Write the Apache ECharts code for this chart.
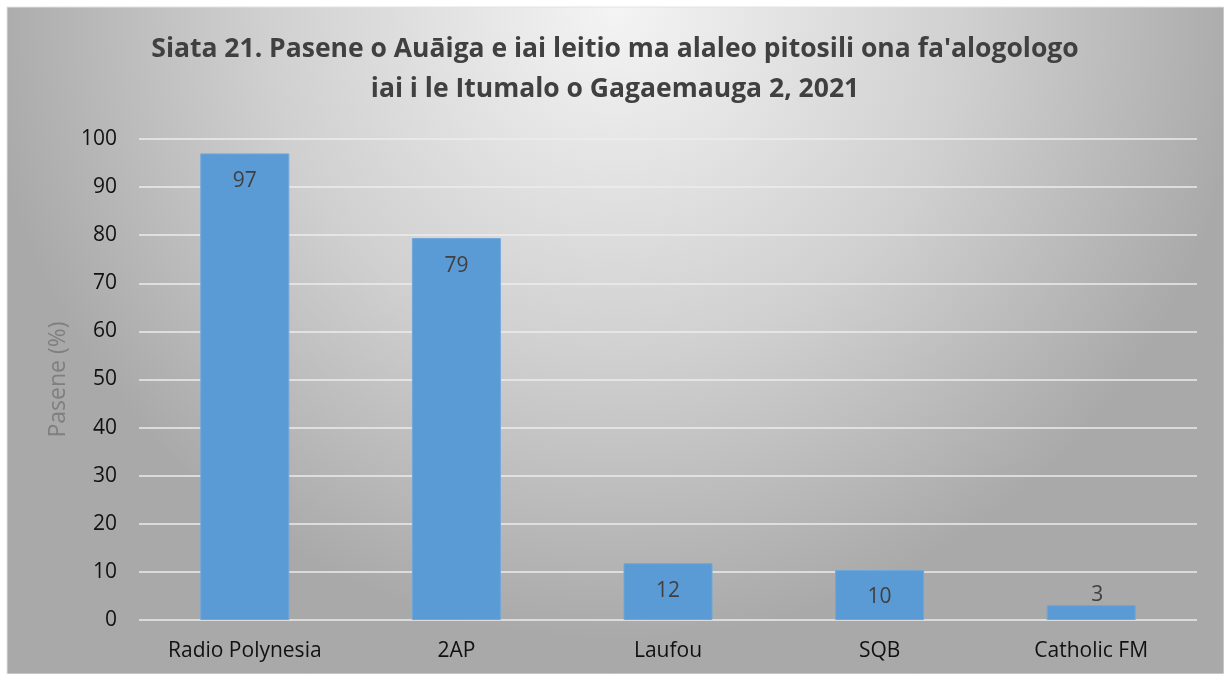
<!DOCTYPE html>
<html>
<head>
<meta charset="utf-8">
<script src="https://cdn.jsdelivr.net/npm/echarts@6/dist/echarts.min.js"></script>
<style>
  html, body { margin: 0; padding: 0; background: #fff; }
  #chart { width: 1224px; height: 674px; }
</style>
</head>
<body>
<div id="chart"></div>
<script>
// chart data
const titleLines = [
  "Siata 21. Pasene o Auāiga e iai leitio ma alaleo pitosili ona fa'alogologo",
  "iai i le Itumalo o Gagaemauga 2, 2021"
];
const stations = ["Radio Polynesia", "2AP", "Laufou", "SQB", "Catholic FM"];
const percents = [97, 79.4, 11.8, 10.4, 3.1];
const yTicks = { min: 0, max: 100, interval: 10 };
const yName = "Pasene (%)";

const font = "'Open Sans', 'Noto Sans', sans-serif";
const chart = echarts.init(document.getElementById("chart"), null, { renderer: "canvas" });

chart.setOption({
  animation: false,
  graphic: [
    {
      type: "rect",
      z: -10,
      shape: { x: 7, y: 7, width: 1217, height: 667 },
      style: {
        fill: {
          type: "radial", x: 0.5, y: 0.0, r: 0.95,
          colorStops: [
            { offset: 0, color: "#f4f4f4" },
            { offset: 0.55, color: "#d0d0d0" },
            { offset: 1, color: "#a9a9a9" }
          ]
        },
        stroke: "#e2e2e2",
        lineWidth: 1
      }
    },
    {
      type: "text",
      x: 615,
      y: 29,
      style: {
        text: titleLines.join("\n"),
        font: "bold 26.5px " + font,
        fill: "#404040",
        align: "center",
        lineHeight: 40
      }
    }
  ],
  grid: { left: 139, right: 27, top: 139, bottom: 54 },
  xAxis: {
    type: "category",
    data: stations,
    axisLine: { show: false },
    axisTick: { show: false },
    axisLabel: { color: "#111", fontSize: 21, fontFamily: font, margin: 21 }
  },
  yAxis: {
    type: "value",
    min: yTicks.min,
    max: yTicks.max,
    interval: yTicks.interval,
    name: yName,
    nameLocation: "middle",
    nameGap: 66,
    nameTextStyle: { color: "#7f7f7f", fontSize: 23, fontFamily: font },
    axisLine: { show: false },
    axisTick: { show: false },
    axisLabel: { color: "#111", fontSize: 21, fontFamily: font, margin: 22 },
    splitLine: { lineStyle: { color: "#ececec", width: 1.5 } }
  },
  series: [
    {
      type: "bar",
      data: percents,
      barWidth: 89,
      itemStyle: { color: "#5b9bd5", borderColor: "#6fa7da", borderWidth: 1 },
      label: {
        show: true,
        position: "insideTop",
        distance: 17,
        color: "#404040",
        fontSize: 21,
        fontFamily: font,
        formatter: (p) => Math.round(p.value)
      },
      labelLayout: (p) => {
        // small bars: Excel pushes the label above the bar
        if (p.rect.height < 30) {
          return { y: p.rect.y - 21 };
        }
      }
    }
  ]
});
</script>
</body>
</html>
